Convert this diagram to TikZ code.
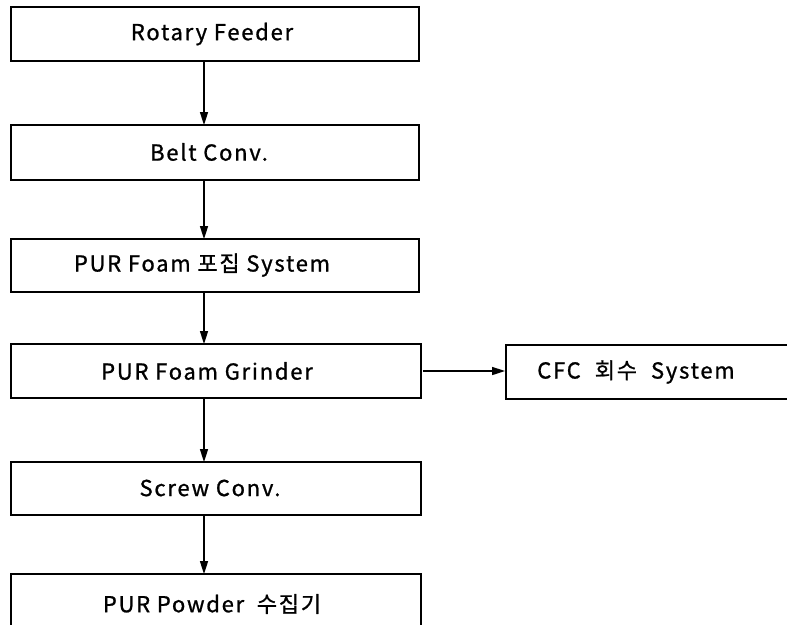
\documentclass[tikz,border=0pt]{standalone}
\usepackage{fontspec}
\setmainfont{Noto Sans CJK KR}[LetterSpace=8,FakeBold=1]
\usetikzlibrary{arrows.meta}
\begin{document}
\begin{tikzpicture}[x=1pt,y=-1pt,
  box/.style={draw,line width=1.6pt,inner sep=0pt},
  lbl/.style={font=\fontsize{22}{24}\selectfont},
  flow/.style={line width=1.6pt,-{Triangle[length=13pt,width=8pt]}}]
\useasboundingbox (0,0) rectangle (787,624);
\clip (0,0) rectangle (787,624);
\fill[white] (0,0) rectangle (787,624);
\draw[box] (11,7) rectangle (419,61);
\draw[box] (11,125) rectangle (419,180);
\draw[box] (11,239) rectangle (419,292);
\draw[box] (11,344) rectangle (421,398);
\draw[box] (506,345) rectangle (820,399);
\draw[box] (11,462) rectangle (421,515);
\draw[box] (11,574) rectangle (421,650);
\node[lbl] (n1) at (212,34) {Rotary Feeder};
\node[lbl] (n2) at (209,152) {Belt Conv.};
\node[lbl] (n3) at (202,265) {PUR Foam 포집 System};
\node[lbl] (n4) at (207,371) {PUR Foam Grinder};
\node[lbl] (n5) at (636,372) {CFC\hspace{14pt}회수\hspace{14pt}System};
\node[lbl] (n6) at (210,488) {Screw Conv.};
\node[lbl] (n7) at (212,604) {PUR Powder\hspace{6pt} 수집기};
\coordinate (a1) at (204,61); \coordinate (b1) at (204,125);
\coordinate (a2) at (204,180); \coordinate (b2) at (204,239);
\coordinate (a3) at (204,292); \coordinate (b3) at (204,344);
\coordinate (a4) at (204,398); \coordinate (b4) at (204,462);
\coordinate (a5) at (204,515); \coordinate (b5) at (204,574);
\coordinate (a6) at (423,371); \coordinate (b6) at (505,371);
\draw[flow] (a1) -- (b1);
\draw[flow] (a2) -- (b2);
\draw[flow] (a3) -- (b3);
\draw[flow] (a4) -- (b4);
\draw[flow] (a5) -- (b5);
\draw[flow] (a6) -- (b6);
\end{tikzpicture}
\end{document}
